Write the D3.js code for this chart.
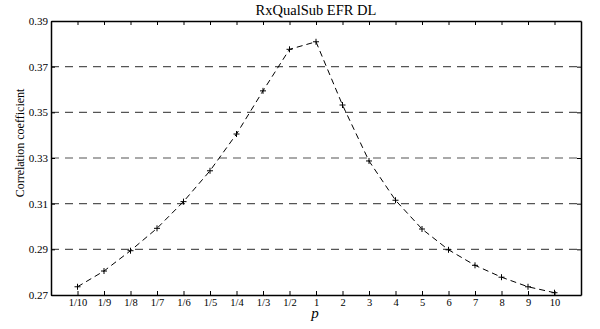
<!DOCTYPE html>
<html lang="en">
<head>
<meta charset="UTF-8">
<script src="https://d3js.org/d3.v7.min.js"></script>
<style>
  body { margin: 0; background: #fff; }
  text { font-family: "Liberation Serif", "Times New Roman", serif; fill: #000; }
</style>
</head>
<body>
<svg id="chart" width="600" height="329"></svg>
<script>
// categories along the x axis
const pLabels = ["1/10", "1/9", "1/8", "1/7", "1/6", "1/5", "1/4", "1/3", "1/2",
                 "1", "2", "3", "4", "5", "6", "7", "8", "9", "10"];
// correlation coefficient
const corrValues = [0.2736, 0.2805, 0.2894, 0.2992, 0.3109, 0.3244, 0.3405, 0.3594, 0.3776,
                    0.3809, 0.3532, 0.3287, 0.3115, 0.2989, 0.2898, 0.2830, 0.2778, 0.2736, 0.2710];
const yTicks = [0.27, 0.29, 0.31, 0.33, 0.35, 0.37, 0.39];
const gridValues = [0.29, 0.31, 0.33, 0.35, 0.37];

const margin = { top: 21, right: 19, bottom: 34, left: 51 };
const width = 600, height = 329;
const svg = d3.select("#chart");

const x = d3.scaleLinear()
    .domain([-1, pLabels.length])
    .range([margin.left, width - margin.right]);
const y = d3.scaleLinear()
    .domain([0.27, 0.39])
    .range([height - margin.bottom, margin.top]);

// dashed horizontal grid
svg.append("g").selectAll("line")
    .data(gridValues)
    .enter().append("line")
    .attr("x1", x.range()[0]).attr("x2", x.range()[1])
    .attr("y1", d => y(d)).attr("y2", d => y(d))
    .attr("stroke", "#555")
    .attr("stroke-width", 1.2)
    .attr("stroke-dasharray", "8,6");

const tickIdx = d3.range(pLabels.length);

// bottom axis
svg.append("g")
    .attr("transform", `translate(0,${y.range()[0]})`)
    .call(d3.axisBottom(x).tickValues(tickIdx).tickFormat(i => pLabels[i]).tickSizeInner(-4).tickSizeOuter(0).tickPadding(4))
    .call(g => g.selectAll("text").attr("font-size", 10.5).attr("font-family", "Liberation Serif"));
// top axis
svg.append("g")
    .attr("transform", `translate(0,${y.range()[1]})`)
    .call(d3.axisTop(x).tickValues(tickIdx).tickFormat("").tickSizeInner(-4).tickSizeOuter(0));
// left axis
svg.append("g")
    .attr("transform", `translate(${x.range()[0]},0)`)
    .call(d3.axisLeft(y).tickValues(yTicks).tickFormat(d3.format(".2f")).tickSizeInner(-4).tickSizeOuter(0).tickPadding(3))
    .call(g => g.selectAll("text").attr("font-size", 11).attr("font-family", "Liberation Serif"));
// right axis
svg.append("g")
    .attr("transform", `translate(${x.range()[1]},0)`)
    .call(d3.axisRight(y).tickValues(yTicks).tickFormat("").tickSizeInner(-4).tickSizeOuter(0));

svg.selectAll(".domain").attr("stroke", "#000").attr("stroke-width", 1.5);
svg.selectAll(".tick line").attr("stroke", "#000");

// data line
const line = d3.line()
    .x((d, i) => x(i))
    .y(d => y(d));
svg.append("path")
    .datum(corrValues)
    .attr("d", line)
    .attr("fill", "none")
    .attr("stroke", "#000")
    .attr("stroke-width", 1)
    .attr("stroke-dasharray", "6,4");

// plus markers
const s = 3;
svg.append("g").selectAll("path")
    .data(corrValues)
    .enter().append("path")
    .attr("d", (d, i) => `M${x(i) - s},${y(d)}h${2 * s}M${x(i)},${y(d) - s}v${2 * s}`)
    .attr("stroke", "#000")
    .attr("stroke-width", 1);

// title and labels
svg.append("text")
    .attr("x", 316)
    .attr("y", 15)
    .attr("text-anchor", "middle")
    .attr("font-size", 14.5)
    .text("RxQualSub EFR DL");

svg.append("text")
    .attr("x", 315)
    .attr("y", 318)
    .attr("text-anchor", "middle")
    .attr("font-size", 15)
    .attr("font-style", "italic")
    .text("p");

svg.append("text")
    .attr("transform", "translate(24,143) rotate(-90)")
    .attr("text-anchor", "middle")
    .attr("font-size", 12)
    .text("Correlation coefficient");
</script>
</body>
</html>
